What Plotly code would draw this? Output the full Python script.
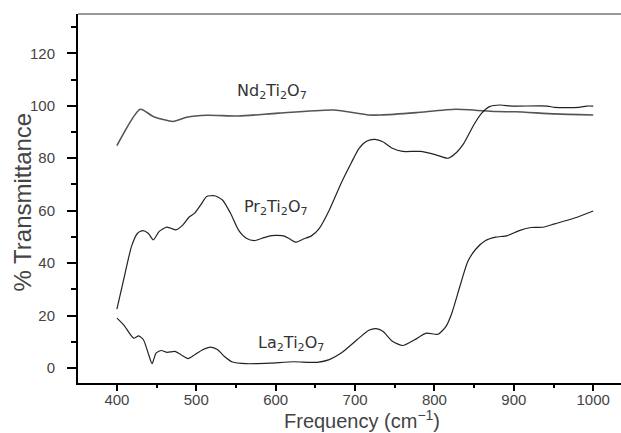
import plotly.graph_objects as go

# ---- data ----
nd_x = [400, 429.4, 445.8, 470.8, 488, 513, 553, 603, 672.6, 717, 732, 777, 827, 877, 902, 952, 1000]
nd_y = [84.8, 98.7, 95.9, 94.0, 95.6, 96.4, 96.1, 97.2, 98.4, 96.5, 96.5, 97.4, 98.7, 97.8, 97.7, 96.9, 96.5]

pr_x = [400, 408.5, 418.4, 426, 432.4, 439.4, 445.8, 453.3, 462.3, 468.3, 474.2, 483.2, 490.7, 498,
        505.6, 513, 523, 533, 543, 553, 563, 573, 583, 595, 610, 617.8, 625, 635, 645, 655, 667.6,
        682.5, 695, 705, 715, 725, 735, 747, 760, 782, 802, 817, 824.5, 837, 849.5, 859.5, 869.4,
        883, 897, 942, 951.6, 981.6, 991.5, 1000]
pr_y = [22.5, 33.7, 46.4, 51.4, 52.4, 51.4, 48.9, 52.1, 53.7, 53.3, 52.7, 54.6, 57.5, 59.1,
        62.2, 65.4, 65.7, 64.1, 59.1, 52.7, 49.5, 48.6, 49.5, 50.5, 50.4, 49.2, 48.0, 49.2, 50.4, 53.3, 60.3,
        70.5, 78.1, 83.8, 86.6, 87.2, 86.3, 83.8, 82.6, 82.6, 81.3, 80.0, 81.3, 85.7, 92.7, 97.2, 99.7,
        100.3, 99.9, 99.9, 99.4, 99.4, 99.9, 99.9]

la_x = [400, 408.5, 421, 427.4, 433.4, 439.4, 444.3, 449.3, 455.8, 463.3, 473.2, 480.7, 489.7, 498,
        508, 518, 527, 535.5, 545.5, 563, 593, 622.7, 652.6, 667.6, 682.5, 702.5, 717.4, 726.4, 735,
        747, 760, 775, 789.7, 804.6, 814.6, 822, 832, 842, 852, 864.4, 877, 891.8, 906.8, 921.8,
        936.7, 951.6, 976.5, 1000]
la_y = [19.05, 16.5, 11.4, 12.3, 10.8, 5.7, 1.65, 5.7, 6.7, 6.0, 6.35, 5.1, 3.6, 5.1,
        7.0, 8.0, 7.0, 4.4, 2.3, 1.65, 1.9, 2.4, 2.2, 3.2, 5.7, 10.8, 14.4, 15.0, 14.0,
        10.2, 8.6, 10.8, 13.3, 12.9, 15.9, 21.0, 31.1, 40.6, 45.3, 48.6, 49.9, 50.5, 52.4, 53.6,
        53.7, 55.0, 57.2, 59.9]

labels = ["Nd<sub>2</sub>Ti<sub>2</sub>O<sub>7</sub>",
          "Pr<sub>2</sub>Ti<sub>2</sub>O<sub>7</sub>",
          "La<sub>2</sub>Ti<sub>2</sub>O<sub>7</sub>"]
label_x = [595, 601, 619]
label_y = [105.5, 61.4, 9.5]

x_major = [400, 500, 600, 700, 800, 900, 1000]
x_minor = [450, 550, 650, 750, 850, 950]
y_major = [0, 20, 40, 60, 80, 100, 120]
y_minor = [10, 30, 50, 70, 90, 110, 130]

fig = go.Figure()
fig.add_trace(go.Scatter(x=nd_x, y=nd_y, mode="lines", line=dict(color="#555555", width=1.6, shape="spline", smoothing=0.6), showlegend=False))
fig.add_trace(go.Scatter(x=pr_x, y=pr_y, mode="lines", line=dict(color="#222222", width=1.2, shape="spline", smoothing=0.6), showlegend=False))
fig.add_trace(go.Scatter(x=la_x, y=la_y, mode="lines", line=dict(color="#222222", width=1.2, shape="spline", smoothing=0.6), showlegend=False))

for t, lx, ly in zip(labels, label_x, label_y):
    fig.add_annotation(x=lx, y=ly, text=t, showarrow=False, xanchor="center", yanchor="middle",
                       font=dict(family="DejaVu Sans", size=16, color="#333333"))

tickfont = dict(family="Liberation Sans", size=15, color="#444444")

fig.update_xaxes(range=[351, 1035], tickvals=x_major, ticks="outside", ticklen=6, tickwidth=2,
                 tickcolor="black", showline=True, linecolor="black", linewidth=2,
                 showgrid=False, zeroline=False, tickfont=tickfont, ticklabelstandoff=-4,
                 minor=dict(tickvals=x_minor, ticks="outside", ticklen=3, tickwidth=2, tickcolor="black", showgrid=False))
fig.update_yaxes(range=[-5.7, 135], tickvals=y_major, ticks="outside", ticklen=9, tickwidth=2,
                 tickcolor="black", showline=True, linecolor="black", linewidth=2,
                 showgrid=False, zeroline=False, tickfont=tickfont, ticklabelstandoff=9,
                 minor=dict(tickvals=y_minor, ticks="outside", ticklen=5, tickwidth=2, tickcolor="black", showgrid=False))

# top frame line
fig.add_shape(type="line", xref="paper", yref="paper", x0=0, x1=1, y0=1, y1=1,
              line=dict(color="#777777", width=1.5))

# axis titles
fig.add_annotation(xref="paper", yref="paper", x=-0.1025, y=0.49, text="% Transmittance",
                   textangle=-90, showarrow=False, xanchor="center", yanchor="middle",
                   font=dict(family="Liberation Sans", size=24, color="#444444"))
fig.add_annotation(xref="paper", yref="paper", x=0.523, y=-0.1345, text="Frequency (cm<sup>−1</sup>)",
                   showarrow=False, xanchor="center", yanchor="bottom", borderpad=0,
                   font=dict(family="Liberation Sans", size=20, color="#444444"))

fig.update_layout(width=621, height=433, margin=dict(l=78, r=0, t=14, b=50),
                  plot_bgcolor="white", paper_bgcolor="white")

fig.write_html("out.html")
